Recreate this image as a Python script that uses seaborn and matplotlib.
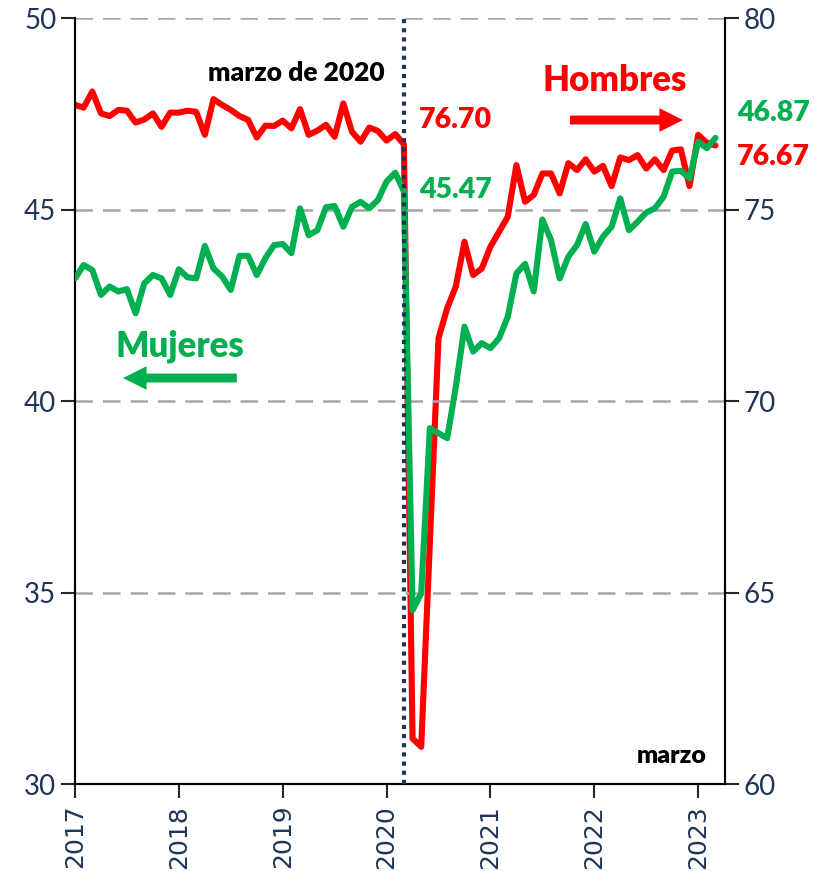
import numpy as np
import pandas as pd
import matplotlib
matplotlib.use('Agg')
import matplotlib.pyplot as plt
import seaborn as sns

# Tasa de participación mensual, ene-2017 a mar-2023
mujeres = [43.20, 43.55, 43.42, 42.77, 42.99, 42.86, 42.92, 42.29, 43.07, 43.29, 43.20, 42.77,
           43.44, 43.23, 43.20, 44.05, 43.46, 43.25, 42.90, 43.79, 43.79, 43.29, 43.73, 44.07,
           44.10, 43.86, 45.03, 44.33, 44.46, 45.06, 45.09, 44.55, 45.07, 45.20, 45.03, 45.25,
           45.73, 45.96, 45.47, 34.54, 34.98, 39.29, 39.16, 39.03, 40.37, 41.94, 41.29, 41.51,
           41.38, 41.64, 42.20, 43.33, 43.58, 42.86, 44.74, 44.20, 43.20, 43.77, 44.07, 44.62,
           43.90, 44.29, 44.55, 45.29, 44.46, 44.68, 44.92, 45.03, 45.33, 45.99, 46.01, 45.81,
           46.77, 46.60, 46.87]
hombres = [77.73, 77.66, 78.08, 77.51, 77.44, 77.60, 77.58, 77.27, 77.35, 77.51, 77.16, 77.53,
           77.53, 77.58, 77.55, 76.95, 77.88, 77.73, 77.60, 77.44, 77.34, 76.88, 77.19, 77.18,
           77.32, 77.12, 77.62, 76.95, 77.06, 77.21, 76.90, 77.77, 77.03, 76.77, 77.14, 77.05,
           76.80, 76.97, 76.70, 61.19, 60.97, 66.30, 71.64, 72.42, 72.99, 74.16, 73.29, 73.46,
           74.03, 74.42, 74.81, 76.16, 75.20, 75.38, 75.94, 75.94, 75.42, 76.21, 76.03, 76.31,
           75.99, 76.14, 75.61, 76.36, 76.29, 76.42, 76.07, 76.31, 76.03, 76.54, 76.57, 75.61,
           76.95, 76.74, 76.67]
anios = ['2017', '2018', '2019', '2020', '2021', '2022', '2023']
marzo_2020 = 38

df = pd.DataFrame({'mes': np.arange(len(mujeres)), 'mujeres': mujeres, 'hombres': hombres})

sns.set_style('white')
plt.rcParams['font.family'] = ['Lato', 'DejaVu Sans']

verde = '#00B050'
rojo = '#FF0000'
azul = '#1F3557'

fig = plt.figure(figsize=(8.14, 8.71), dpi=100)
ax = fig.add_axes([75 / 814, 1 - 784 / 871, 650 / 814, 766 / 871])
ax2 = ax.twinx()

# grid
for v in [35, 40, 45, 50]:
    ax.axhline(v, color='#A6A6A6', lw=1.8, ls=(0, (7, 4)), zorder=0)

sns.lineplot(data=df, x='mes', y='mujeres', ax=ax, color=verde, lw=4.4, zorder=3)
sns.lineplot(data=df, x='mes', y='hombres', ax=ax2, color=rojo, lw=4.4, zorder=2)
ax.set_zorder(ax2.get_zorder() + 1)
ax.patch.set_visible(False)

ax.axvline(marzo_2020, color=azul, lw=3, ls=(0, (1, 1.2)), zorder=4)

ax.set_xlim(0, 75.1)
ax.set_ylim(30, 50)
ax2.set_ylim(60, 80)
ax.set_yticks([30, 35, 40, 45, 50])
ax2.set_yticks([60, 65, 70, 75, 80])
ax.set_xticks(np.arange(0, 73, 12))
ax.set_xticklabels(anios, rotation=90, family='DejaVu Sans', fontsize=18, color=azul)
ax.set_xlabel('')
ax.set_ylabel('')
ax2.set_ylabel('')

for a in (ax, ax2):
    for s in a.spines.values():
        s.set_color('black')
        s.set_linewidth(1.5)
    a.spines['top'].set_visible(False)
ax.tick_params(axis='y', labelsize=20, labelcolor=azul, length=10, width=1.5, direction='out', left=True)
ax.tick_params(axis='x', length=10, width=1.5, direction='out', bottom=True, pad=5)
ax2.tick_params(axis='y', labelsize=20, labelcolor=azul, length=10, width=1.5, direction='out', right=True)

T = ax.transAxes
peso = 'heavy'
ax.text(0.477, 0.928, 'marzo de 2020', transform=T, ha='right', va='center',
        fontsize=19, fontweight=peso, color='black')
ax.text(0.972, 0.036, 'marzo', transform=T, ha='right', va='center',
        fontsize=18, fontweight=peso, color='black')
ax.text(0.831, 0.918, 'Hombres', transform=T, ha='center', va='center',
        fontsize=25, fontweight=peso, color=rojo)
ax.text(0.1615, 0.572, 'Mujeres', transform=T, ha='center', va='center',
        fontsize=25, fontweight=peso, color=verde)
ax.text(0.529, 0.8668, '76.70', transform=T, ha='left', va='center',
        fontsize=20.5, fontweight=peso, color=rojo)
ax.text(0.529, 0.7755, '45.47', transform=T, ha='left', va='center',
        fontsize=20.5, fontweight=peso, color=verde)
ax.text(1.0185, 0.876, '46.87', transform=T, ha='left', va='center',
        fontsize=20.5, fontweight=peso, color=verde, clip_on=False)
ax.text(1.0185, 0.8185, '76.67', transform=T, ha='left', va='center',
        fontsize=20.5, fontweight=peso, color=rojo, clip_on=False)

# flechas de eje
flecha = dict(arrowstyle='simple,head_length=0.85,head_width=0.85,tail_width=0.32',
              mutation_scale=20, lw=0, shrinkA=0, shrinkB=0)
ax.annotate('', xy=(0.9354, 0.8668), xytext=(0.7615, 0.8668), xycoords=T, textcoords=T,
            arrowprops=dict(flecha, color=rojo))
ax.annotate('', xy=(0.0738, 0.530), xytext=(0.249, 0.530), xycoords=T, textcoords=T,
            arrowprops=dict(flecha, color=verde))

fig.savefig('out.png', dpi=100)
